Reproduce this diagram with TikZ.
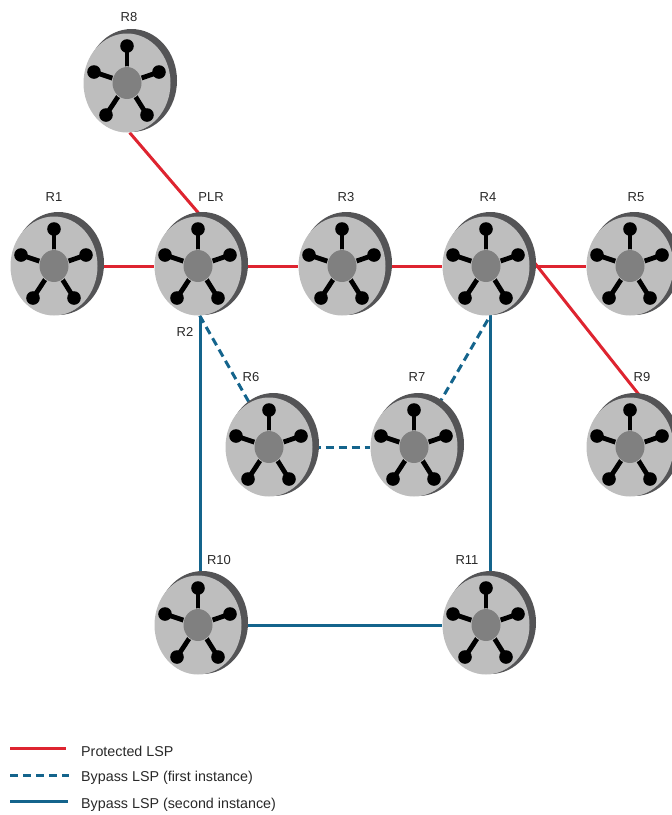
\documentclass[tikz,border=0pt]{standalone}
\usepackage{fontspec}
\setmainfont{Liberation Sans}
\usetikzlibrary{shapes.geometric,backgrounds}
\definecolor{faceC}{RGB}{190,190,190}
\definecolor{rimC}{RGB}{84,84,86}
\definecolor{hubC}{RGB}{128,128,128}
\definecolor{redC}{RGB}{222,36,48}
\definecolor{blueC}{RGB}{20,100,140}
\definecolor{txtC}{RGB}{40,40,40}
\tikzset{
  x=1pt,y=-1pt,
  rface/.style={ellipse,inner sep=0pt,minimum width=87pt,minimum height=99pt,fill=faceC},
  rrim/.style={fill=rimC},
  rhub/.style={fill=hubC},
  spoke/.style={line width=4.8pt,black},
  knob/.style={fill=black},
  lbl/.style={font=\fontsize{13}{15}\selectfont,text=txtC,inner sep=0pt},
  leg/.style={font=\fontsize{14.3}{16}\selectfont,text=txtC,inner sep=0pt,anchor=west},
  prot/.style={line width=3pt,redC},
  byp/.style={line width=3pt,blueC},
  bypd/.style={line width=3pt,blueC,dash pattern=on 8pt off 5pt},
}
\newcommand{\routerat}[3]{%
  \fill[rrim] (#2+4.5,#3-2.5) ellipse [x radius=45.5,y radius=51.5];
  \node[rface] (#1) at (#2,#3) {};
  \begin{scope}[shift={(#2,#3)}]
    \foreach \a/\b in {0/-37,-33/-11,32/-11,-21/32,20/32}{
      \draw[spoke] (0,0) -- (\a,\b);
      \fill[knob] (\a,\b) circle [radius=6.8];
    }
    \fill[faceC] (0,0) ellipse [x radius=15.3,y radius=16.8];
    \fill[rhub] (0,0) ellipse [x radius=14.5,y radius=16];
  \end{scope}}
\begin{document}
\begin{tikzpicture}
\useasboundingbox (0,0) rectangle (672,815);
\begin{scope}
\clip (0,0) rectangle (672,815);
\routerat{R8}{127}{83}
\routerat{R1}{54}{266}
\routerat{PLR}{198}{266}
\routerat{R3}{342}{266}
\routerat{R4}{486}{266}
\routerat{R5}{630}{266}
\routerat{R6}{269}{447}
\routerat{R7}{414}{447}
\routerat{R9}{630}{447}
\routerat{R10}{198}{625}
\routerat{R11}{486}{625}
\end{scope}
\node[lbl] (t8) at (129,17) {R8};
\node[lbl] (t1) at (54,197) {R1};
\node[lbl] (tp) at (211,197) {PLR};
\node[lbl] (t3) at (346,197) {R3};
\node[lbl] (t4) at (488,197) {R4};
\node[lbl] (t5) at (636,197) {R5};
\node[lbl] (t2) at (185,332) {R2};
\node[lbl] (t6) at (251,377) {R6};
\node[lbl] (t7) at (417,377) {R7};
\node[lbl] (t9) at (642,377) {R9};
\node[lbl] (t10) at (219,560) {R10};
\node[lbl] (t11) at (467,560) {R11};
\begin{scope}[on background layer]
\draw[prot] (R8.-87) -- (PLR.86);
\draw[prot] (R1) -- (PLR);
\draw[prot] (PLR) -- (R3);
\draw[prot] (R3) -- (R4);
\draw[prot] (R4) -- (R5);
\draw[prot] (R4.14) -- (R9.75);
\draw[byp] (PLR.-87) coordinate (pb) -- (R10.north -| pb);
\draw[bypd] (PLR.-88) -- (R6.114);
\draw[bypd] (R6) -- (R7);
\draw[bypd] (R7.60) -- (R4.-85);
\draw[byp] (R4.-85) coordinate (qb) -- (R11.north -| qb);
\draw[byp] (R10) -- (R11);
\end{scope}
\coordinate (a1) at (10,748); \coordinate (a2) at (66,748);
\coordinate (b1) at (10,775); \coordinate (b2) at (69,775);
\coordinate (c1) at (10,801); \coordinate (c2) at (68,801);
\draw[prot] (a1) -- (a2);
\draw[bypd] (b1) -- (b2);
\draw[byp] (c1) -- (c2);
\node[leg] (la) at (81,751) {Protected LSP};
\node[leg] (lb) at (81,778) {Bypass LSP (first instance)};
\node[leg] (lc) at (81,805) {Bypass LSP (second instance)};
\end{tikzpicture}
\end{document}
